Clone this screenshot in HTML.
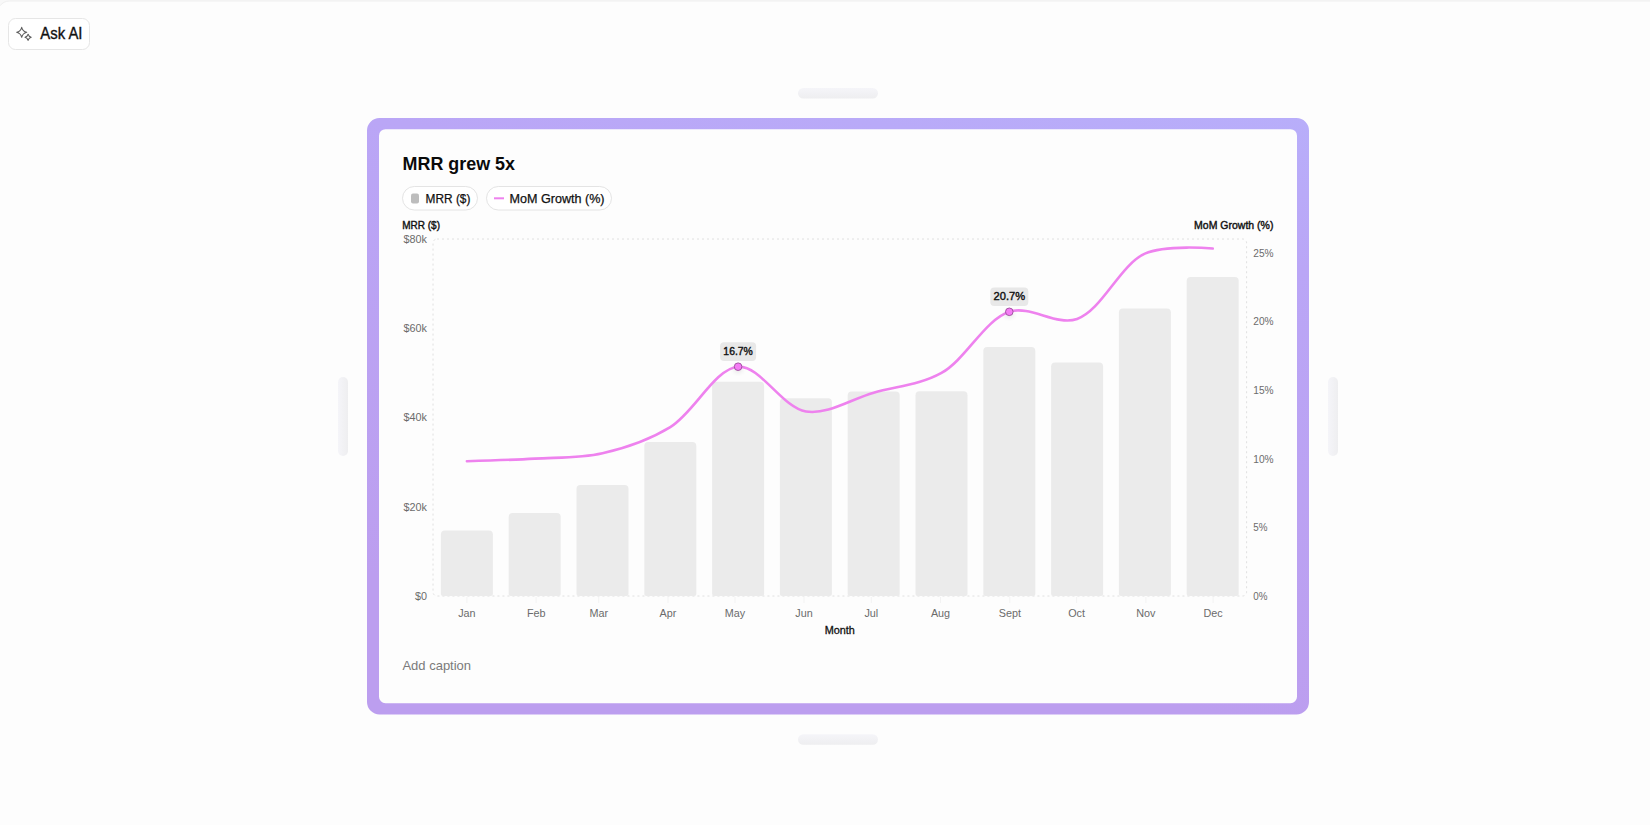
<!DOCTYPE html>
<html><head><meta charset="utf-8"><style>
html,body{margin:0;padding:0;background:#fdfdfd;}
body{width:1650px;height:825px;overflow:hidden;position:relative;font-family:"Liberation Sans", sans-serif;}
svg{position:absolute;left:0;top:0;}
text{font-family:"Liberation Sans", sans-serif;}
</style></head><body>
<svg width="1650" height="825" viewBox="0 0 1650 825">
<rect x="0" y="0" width="1650" height="825" fill="#fdfdfd"/>
<rect x="0" y="0" width="1650" height="1" fill="#f8f8f8"/>
<path d="M0,0 H1650 V1 H9.6 A12,12 0 0 0 0,5.8 Z" fill="#f8f8f8"/>
<path d="M0,5.8 A12,12 0 0 1 9.6,1 L1650,1" fill="none" stroke="#efefef" stroke-width="1"/>
<rect x="8.5" y="18.5" width="81" height="31" rx="7" fill="#ffffff" stroke="#e6e6e6" stroke-width="1"/>
<path d="M21.7,27.299999999999997 Q22.7,31.299999999999997 26.7,32.3 Q22.7,33.3 21.7,37.3 Q20.7,33.3 16.7,32.3 Q20.7,31.299999999999997 21.7,27.299999999999997 Z" fill="none" stroke="#5c5c5c" stroke-width="1.05" stroke-linejoin="round"/>
<path d="M28.1,34.199999999999996 Q28.700000000000003,36.699999999999996 31.200000000000003,37.3 Q28.700000000000003,37.9 28.1,40.4 Q27.5,37.9 25.0,37.3 Q27.5,36.699999999999996 28.1,34.199999999999996 Z" fill="none" stroke="#5c5c5c" stroke-width="1.05" stroke-linejoin="round"/>
<text x="40.3" y="39" font-size="15.6" fill="#111" font-weight="400" text-anchor="start" textLength="42.2" lengthAdjust="spacingAndGlyphs" stroke="#111" stroke-width="0.35">Ask AI</text>
<rect x="798" y="88" width="80" height="10.5" rx="5.25" fill="url(#hg)"/>
<rect x="798" y="734.2" width="80" height="10.5" rx="5.25" fill="url(#hg)"/>
<rect x="338" y="377" width="10" height="79" rx="5" fill="url(#hgv)"/>
<rect x="1328" y="377" width="10" height="79" rx="5" fill="url(#hgv)"/>
<defs><linearGradient id="hg" x1="0" y1="0" x2="0" y2="1"><stop offset="0" stop-color="#f5f5f9"/><stop offset="1" stop-color="#eeeef0"/></linearGradient><linearGradient id="hgv" x1="0" y1="0" x2="1" y2="0"><stop offset="0" stop-color="#f5f5f9"/><stop offset="1" stop-color="#eeeef0"/></linearGradient><linearGradient id="fg" gradientUnits="userSpaceOnUse" x1="1309" y1="118" x2="1212" y2="714"><stop offset="0" stop-color="#b8aefa"/><stop offset="0.25" stop-color="#baa6f6"/><stop offset="1" stop-color="#bc9eef"/></linearGradient><filter id="ds" x="-2" y="-2" width="5" height="5"><feGaussianBlur stdDeviation="2"/></filter></defs>
<path fill-rule="evenodd" fill="url(#fg)" d="M379.5,118 H1296.5 A12.5,12.5 0 0 1 1309,130.5 V702.0 A12.5,12.5 0 0 1 1296.5,714.5 H379.5 A12.5,12.5 0 0 1 367,702.0 V130.5 A12.5,12.5 0 0 1 379.5,118 Z M385.5,129.2 H1290.5 A6.5,6.5 0 0 1 1297,135.7 V696.7 A6.5,6.5 0 0 1 1290.5,703.2 H385.5 A6.5,6.5 0 0 1 379,696.7 V135.7 A6.5,6.5 0 0 1 385.5,129.2 Z"/>
<text x="402.6" y="170" font-size="17.7" fill="#0a0a0a" font-weight="700" text-anchor="start" textLength="112.4" lengthAdjust="spacingAndGlyphs" >MRR grew 5x</text>
<rect x="402.5" y="186.5" width="75" height="23.5" rx="11.75" fill="#fff" stroke="#e4e4e4" stroke-width="1"/>
<rect x="411" y="193.4" width="8" height="10.2" rx="2" fill="#bdbdbd"/>
<text x="425.6" y="203.1" font-size="12.5" fill="#111" font-weight="400" text-anchor="start" textLength="44.8" lengthAdjust="spacingAndGlyphs" stroke="#111" stroke-width="0.25">MRR ($)</text>
<rect x="486.5" y="186.5" width="125" height="23.5" rx="11.75" fill="#fff" stroke="#e4e4e4" stroke-width="1"/>
<rect x="494" y="197.3" width="10" height="2" fill="#ee82ee"/>
<text x="509.5" y="203.1" font-size="12.5" fill="#111" font-weight="400" text-anchor="start" textLength="95" lengthAdjust="spacingAndGlyphs" stroke="#111" stroke-width="0.25">MoM Growth (%)</text>
<text x="402.2" y="228.8" font-size="10.6" fill="#111" font-weight="400" text-anchor="start" textLength="37.8" lengthAdjust="spacingAndGlyphs" stroke="#111" stroke-width="0.4">MRR ($)</text>
<text x="1194.1" y="228.9" font-size="10.6" fill="#111" font-weight="400" text-anchor="start" textLength="79.3" lengthAdjust="spacingAndGlyphs" stroke="#111" stroke-width="0.4">MoM Growth (%)</text>
<rect x="433.0" y="239" width="813.6" height="357" rx="4" stroke="#e0e0e0" stroke-width="1" stroke-dasharray="2 3" fill="none"/>
<path d="M442.90,596 A2,2 0 0 1 440.90,594 V534.40 A4,4 0 0 1 444.90,530.40 H488.90 A4,4 0 0 1 492.90,534.40 V594 A2,2 0 0 1 490.90,596 Z" fill="#ebebeb"/>
<path d="M510.70,596 A2,2 0 0 1 508.70,594 V517.00 A4,4 0 0 1 512.70,513.00 H556.70 A4,4 0 0 1 560.70,517.00 V594 A2,2 0 0 1 558.70,596 Z" fill="#ebebeb"/>
<path d="M578.50,596 A2,2 0 0 1 576.50,594 V488.88 A4,4 0 0 1 580.50,484.88 H624.50 A4,4 0 0 1 628.50,488.88 V594 A2,2 0 0 1 626.50,596 Z" fill="#ebebeb"/>
<path d="M646.30,596 A2,2 0 0 1 644.30,594 V446.04 A4,4 0 0 1 648.30,442.04 H692.30 A4,4 0 0 1 696.30,446.04 V594 A2,2 0 0 1 694.30,596 Z" fill="#ebebeb"/>
<path d="M714.10,596 A2,2 0 0 1 712.10,594 V385.80 A4,4 0 0 1 716.10,381.80 H760.10 A4,4 0 0 1 764.10,385.80 V594 A2,2 0 0 1 762.10,596 Z" fill="#ebebeb"/>
<path d="M781.90,596 A2,2 0 0 1 779.90,594 V402.31 A4,4 0 0 1 783.90,398.31 H827.90 A4,4 0 0 1 831.90,402.31 V594 A2,2 0 0 1 829.90,596 Z" fill="#ebebeb"/>
<path d="M849.70,596 A2,2 0 0 1 847.70,594 V395.62 A4,4 0 0 1 851.70,391.62 H895.70 A4,4 0 0 1 899.70,395.62 V594 A2,2 0 0 1 897.70,596 Z" fill="#ebebeb"/>
<path d="M917.50,596 A2,2 0 0 1 915.50,594 V395.17 A4,4 0 0 1 919.50,391.17 H963.50 A4,4 0 0 1 967.50,395.17 V594 A2,2 0 0 1 965.50,596 Z" fill="#ebebeb"/>
<path d="M985.30,596 A2,2 0 0 1 983.30,594 V350.99 A4,4 0 0 1 987.30,346.99 H1031.30 A4,4 0 0 1 1035.30,350.99 V594 A2,2 0 0 1 1033.30,596 Z" fill="#ebebeb"/>
<path d="M1053.10,596 A2,2 0 0 1 1051.10,594 V366.61 A4,4 0 0 1 1055.10,362.61 H1099.10 A4,4 0 0 1 1103.10,366.61 V594 A2,2 0 0 1 1101.10,596 Z" fill="#ebebeb"/>
<path d="M1120.90,596 A2,2 0 0 1 1118.90,594 V312.61 A4,4 0 0 1 1122.90,308.61 H1166.90 A4,4 0 0 1 1170.90,312.61 V594 A2,2 0 0 1 1168.90,596 Z" fill="#ebebeb"/>
<path d="M1188.70,596 A2,2 0 0 1 1186.70,594 V280.93 A4,4 0 0 1 1190.70,276.93 H1234.70 A4,4 0 0 1 1238.70,280.93 V594 A2,2 0 0 1 1236.70,596 Z" fill="#ebebeb"/>
<line x1="466.9" y1="597" x2="466.9" y2="603" stroke="#f3f3f3" stroke-width="1"/>
<line x1="536.2" y1="597" x2="536.2" y2="603" stroke="#f3f3f3" stroke-width="1"/>
<line x1="598.7" y1="597" x2="598.7" y2="603" stroke="#f3f3f3" stroke-width="1"/>
<line x1="668.0" y1="597" x2="668.0" y2="603" stroke="#f3f3f3" stroke-width="1"/>
<line x1="735.0" y1="597" x2="735.0" y2="603" stroke="#f3f3f3" stroke-width="1"/>
<line x1="804.0" y1="597" x2="804.0" y2="603" stroke="#f3f3f3" stroke-width="1"/>
<line x1="871.3" y1="597" x2="871.3" y2="603" stroke="#f3f3f3" stroke-width="1"/>
<line x1="940.5" y1="597" x2="940.5" y2="603" stroke="#f3f3f3" stroke-width="1"/>
<line x1="1009.8" y1="597" x2="1009.8" y2="603" stroke="#f3f3f3" stroke-width="1"/>
<line x1="1076.6" y1="597" x2="1076.6" y2="603" stroke="#f3f3f3" stroke-width="1"/>
<line x1="1145.9" y1="597" x2="1145.9" y2="603" stroke="#f3f3f3" stroke-width="1"/>
<line x1="1213.1" y1="597" x2="1213.1" y2="603" stroke="#f3f3f3" stroke-width="1"/>
<text x="427" y="599.9" font-size="10.8" fill="#6b6b6b" font-weight="400" text-anchor="end" >$0</text>
<text x="427" y="510.65" font-size="10.8" fill="#6b6b6b" font-weight="400" text-anchor="end" >$20k</text>
<text x="427" y="421.4" font-size="10.8" fill="#6b6b6b" font-weight="400" text-anchor="end" >$40k</text>
<text x="427" y="332.15" font-size="10.8" fill="#6b6b6b" font-weight="400" text-anchor="end" >$60k</text>
<text x="427" y="242.9" font-size="10.8" fill="#6b6b6b" font-weight="400" text-anchor="end" >$80k</text>
<text x="1253.3" y="599.9" font-size="10.8" fill="#6b6b6b" font-weight="400" text-anchor="start" textLength="14.2" lengthAdjust="spacingAndGlyphs" >0%</text>
<text x="1253.3" y="531.2461538461538" font-size="10.8" fill="#6b6b6b" font-weight="400" text-anchor="start" textLength="14.2" lengthAdjust="spacingAndGlyphs" >5%</text>
<text x="1253.3" y="462.59230769230766" font-size="10.8" fill="#6b6b6b" font-weight="400" text-anchor="start" textLength="20.3" lengthAdjust="spacingAndGlyphs" >10%</text>
<text x="1253.3" y="393.9384615384615" font-size="10.8" fill="#6b6b6b" font-weight="400" text-anchor="start" textLength="20.3" lengthAdjust="spacingAndGlyphs" >15%</text>
<text x="1253.3" y="325.28461538461534" font-size="10.8" fill="#6b6b6b" font-weight="400" text-anchor="start" textLength="20.3" lengthAdjust="spacingAndGlyphs" >20%</text>
<text x="1253.3" y="256.6307692307692" font-size="10.8" fill="#6b6b6b" font-weight="400" text-anchor="start" textLength="20.3" lengthAdjust="spacingAndGlyphs" >25%</text>
<text x="466.9" y="617" font-size="10.8" fill="#6b6b6b" font-weight="400" text-anchor="middle" >Jan</text>
<text x="536.2" y="617" font-size="10.8" fill="#6b6b6b" font-weight="400" text-anchor="middle" >Feb</text>
<text x="598.7" y="617" font-size="10.8" fill="#6b6b6b" font-weight="400" text-anchor="middle" >Mar</text>
<text x="668.0" y="617" font-size="10.8" fill="#6b6b6b" font-weight="400" text-anchor="middle" >Apr</text>
<text x="735.0" y="617" font-size="10.8" fill="#6b6b6b" font-weight="400" text-anchor="middle" >May</text>
<text x="804.0" y="617" font-size="10.8" fill="#6b6b6b" font-weight="400" text-anchor="middle" >Jun</text>
<text x="871.3" y="617" font-size="10.8" fill="#6b6b6b" font-weight="400" text-anchor="middle" >Jul</text>
<text x="940.5" y="617" font-size="10.8" fill="#6b6b6b" font-weight="400" text-anchor="middle" >Aug</text>
<text x="1009.8" y="617" font-size="10.8" fill="#6b6b6b" font-weight="400" text-anchor="middle" >Sept</text>
<text x="1076.6" y="617" font-size="10.8" fill="#6b6b6b" font-weight="400" text-anchor="middle" >Oct</text>
<text x="1145.9" y="617" font-size="10.8" fill="#6b6b6b" font-weight="400" text-anchor="middle" >Nov</text>
<text x="1213.1" y="617" font-size="10.8" fill="#6b6b6b" font-weight="400" text-anchor="middle" >Dec</text>
<text x="839.8" y="633.8" font-size="10.6" fill="#111" font-weight="400" text-anchor="middle" textLength="30.2" lengthAdjust="spacingAndGlyphs" stroke="#111" stroke-width="0.3">Month</text>
<path d="M466.90,461.29 C466.90,461.29 512.11,459.96 534.70,458.61 C557.31,457.26 580.26,458.27 602.50,453.21 C625.49,447.98 648.82,440.17 670.30,427.07 C694.30,412.43 714.84,368.37 738.10,366.70 C760.11,365.12 782.42,407.79 805.90,411.51 C827.74,414.97 851.12,399.19 873.70,392.77 C896.32,386.34 920.18,384.88 941.50,372.97 C965.75,359.43 984.79,319.74 1009.30,311.77 C1030.48,304.88 1056.05,326.16 1077.10,318.93 C1101.84,310.44 1120.14,264.73 1144.90,253.65 C1165.94,244.24 1212.70,248.56 1212.70,248.56" fill="none" stroke="#ee82ee" stroke-width="2.6" stroke-linecap="round"/>
<ellipse cx="738.1" cy="369.7" rx="5" ry="3.5" fill="#000" opacity="0.07" filter="url(#ds)"/>
<circle cx="738.1" cy="366.7" r="3.8" fill="#f57cf5" stroke="#9a4d9a" stroke-width="0.9"/>
<rect x="720.1" y="342.3" width="36.0" height="18.7" rx="4" fill="#e8e8e8"/>
<text x="738.1" y="355.2" font-size="10.8" fill="#111" font-weight="400" text-anchor="middle" textLength="29.5" lengthAdjust="spacingAndGlyphs" stroke="#111" stroke-width="0.4">16.7%</text>
<ellipse cx="1009.3" cy="314.8" rx="5" ry="3.5" fill="#000" opacity="0.07" filter="url(#ds)"/>
<circle cx="1009.3" cy="311.8" r="3.8" fill="#f57cf5" stroke="#9a4d9a" stroke-width="0.9"/>
<rect x="990.3" y="287.4" width="38.0" height="18.7" rx="4" fill="#e8e8e8"/>
<text x="1009.3" y="300.3" font-size="10.8" fill="#111" font-weight="400" text-anchor="middle" textLength="31.5" lengthAdjust="spacingAndGlyphs" stroke="#111" stroke-width="0.4">20.7%</text>
<text x="402.4" y="669.9" font-size="12.6" fill="#7a7a7a" font-weight="400" text-anchor="start" textLength="68.7" lengthAdjust="spacingAndGlyphs" >Add caption</text>
</svg>
</body></html>
